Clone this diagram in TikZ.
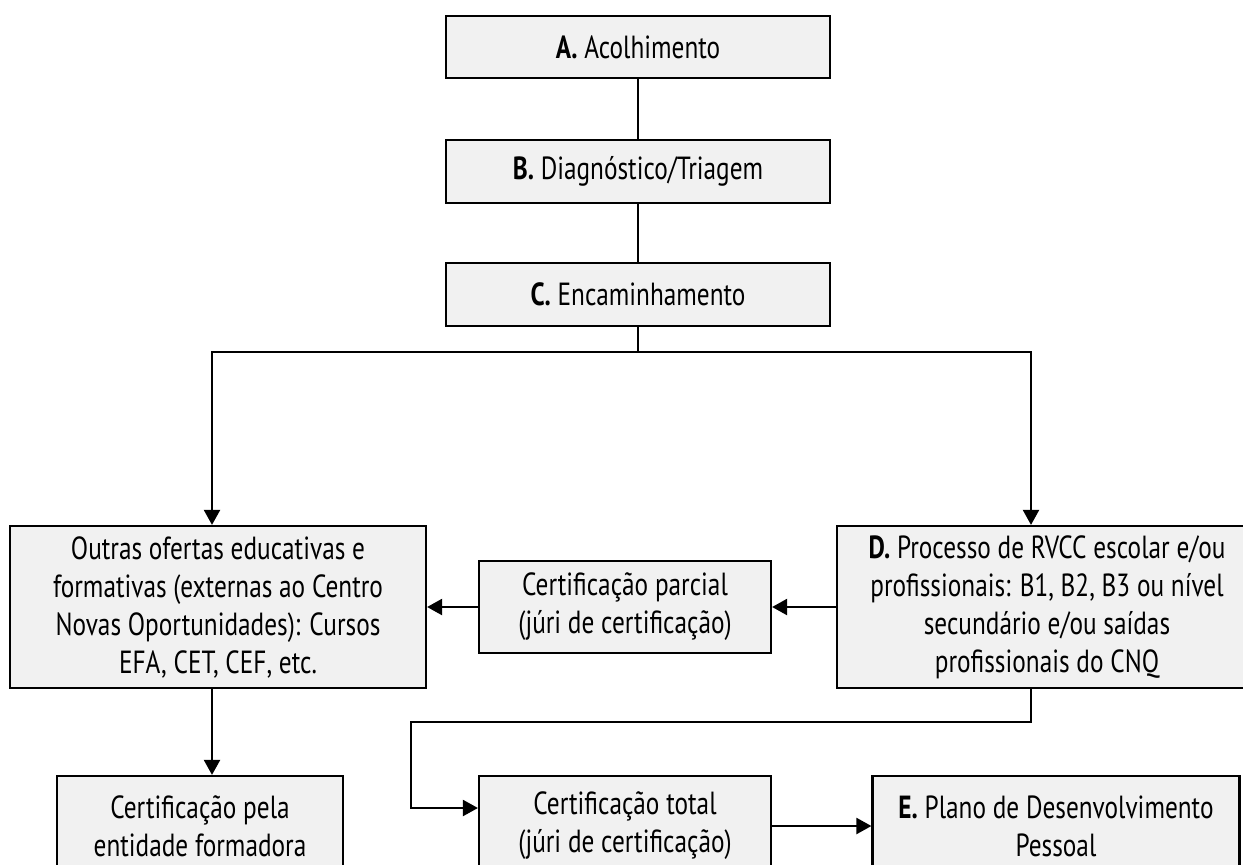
\documentclass[tikz,border=0pt]{standalone}
\usepackage{fontspec}
\setmainfont{PT Sans}[FakeStretch=0.79]
\usetikzlibrary{positioning,arrows.meta}

\definecolor{boxfill}{HTML}{F1F1F1}

\tikzset{
  etapa/.style={draw, line width=1.1pt, fill=boxfill, align=center,
    inner sep=2pt, font=\fontsize{16}{19}\selectfont},
  liga/.style={line width=1.1pt},
  seta/.style={line width=1.1pt, -{Triangle[length=7.5pt,width=8pt]}}
}

\begin{document}
\begin{tikzpicture}[x=0.5pt, y=-0.5pt]

\useasboundingbox (0,0) rectangle (1243,864);

%\draw [->] (0,0) -- (1243,864);

\node[etapa, minimum width=192pt, minimum height=31pt] (acol) at (638,47) {\textbf{A.} Acolhimento};
\node[etapa, minimum width=192pt, minimum height=31.5pt] (diag) at (638,171.5) {\textbf{B.} Diagnóstico/Triagem};
\node[etapa, minimum width=192pt, minimum height=31.5pt] (enc) at (638,294.5) {\textbf{C.} Encaminhamento};

\node[etapa, minimum width=208pt, minimum height=81pt] (outras) at (218,607)
  {Outras ofertas educativas e\\ formativas (externas ao Centro\\ Novas Oportunidades): Cursos\\ EFA, CET, CEF, etc.};
\node[etapa, minimum width=146pt, minimum height=46pt] (parcial) at (625,607)
  {Certificação parcial\\ (júri de certificação)};
\node[etapa, minimum width=210pt, minimum height=81pt] (rvcc) at (1047,607)
  {\textbf{D.} Processo de RVCC escolar e/ou\\ profissionais: B1, B2, B3 ou nível\\ secundário e/ou saídas\\ profissionais do CNQ};

\node[etapa, minimum width=143pt, minimum height=50pt] (entid) at (200,826)
  {Certificação pela\\ entidade formadora};
\node[etapa, minimum width=146pt, minimum height=50pt] (total) at (625,826)
  {Certificação total\\ (júri de certificação)};
\node[etapa, minimum width=183.5pt, minimum height=50pt] (pdp) at (1056,826)
  {\textbf{E.} Plano de Desenvolvimento\\ Pessoal};

\coordinate (split) at (638,352);
\coordinate (volta) at (411,722);

\draw [liga] (acol.south) -- (diag.north);
\draw [liga] (diag.south) -- (enc.north);
\draw [liga] (enc.south) -- (split);
\draw [seta] (split) -| ([xshift=-3pt]outras.north);
\draw [seta] (split) -| ([xshift=-8pt]rvcc.north);

\draw [seta] (rvcc.west) -- (parcial.east);
\draw [seta] (parcial.west) -- (outras.east);
\draw [seta] ([xshift=-3pt]outras.south) -- ([xshift=-3pt]outras.south |- entid.north);

\draw [seta] ([xshift=-8pt]rvcc.south) |- (volta) |- ([yshift=9pt]total.west);
\draw [seta] (total.east) -- (pdp.west);

\end{tikzpicture}
\end{document}
